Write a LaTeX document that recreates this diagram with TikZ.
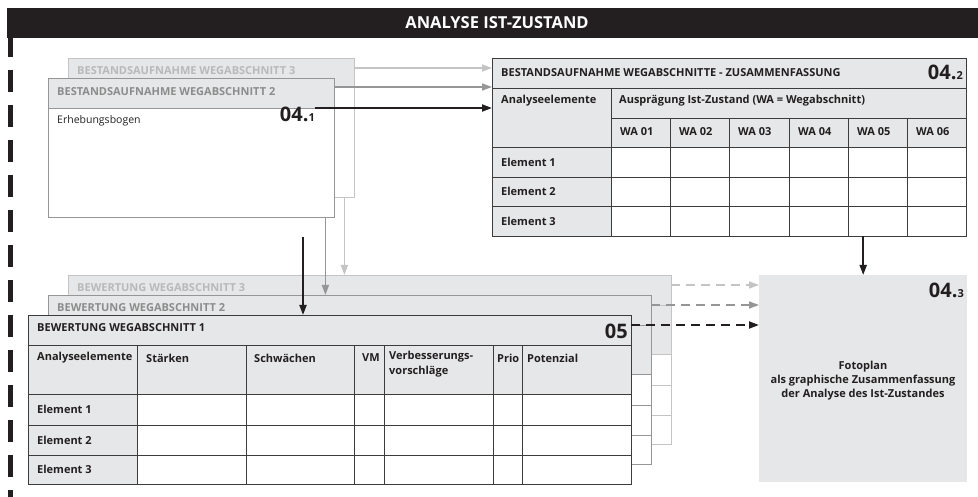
\documentclass[tikz,border=0pt]{standalone}
\usepackage{fontspec}
\setmainfont{Open Sans}
\usetikzlibrary{arrows.meta}
\definecolor{boxgray}{RGB}{230,231,232}
\definecolor{inkdark}{RGB}{35,31,32}
\definecolor{gridgray}{RGB}{60,60,60}
\definecolor{midgray}{RGB}{150,150,150}
\definecolor{midtext}{RGB}{140,140,140}
\definecolor{palegray}{RGB}{196,196,196}
\definecolor{paletext}{RGB}{185,185,185}
\tikzstyle{card} = [rectangle, anchor=north west, inner sep=0pt, fill=white]
\tikzstyle{celltext} = [anchor=west, inner sep=0pt, text=inkdark,
font=\fontsize{11}{13}\selectfont\bfseries]
\tikzstyle{number} = [inner sep=0pt, text=inkdark, font=\fontsize{20}{20}\selectfont\bfseries]
\tikzstyle{grid} = [gridgray, line width=0.9pt]
\tikzstyle{arrow} = [line width=2pt, -{Triangle[length=10pt,width=7pt]}]
\tikzstyle{grayarrow} = [line width=1.5pt, -{Triangle[length=10pt,width=7pt]}]
\tikzstyle{dasharrow} = [dash pattern=on 9pt off 6pt]
\begin{document}
\begin{tikzpicture}[x=1pt, y=-1pt]
\useasboundingbox (0,0) rectangle (978,497);

% title bar and left edge
\node (bar) [fill=inkdark, anchor=north west, minimum width=971pt, minimum height=30pt, inner sep=0pt] at (7,8) {};
\node (title) [text=white, font=\fontsize{16.5}{18}\selectfont\bfseries] at (497,23) {ANALYSE IST-ZUSTAND};
\draw[inkdark, line width=5pt, dash pattern=on 22pt off 13pt, dash phase=3pt] (10.5,38) -- (10.5,497);

% Bestandsaufnahme
\node (bst3) [card, minimum width=286pt, minimum height=139pt] at (68,58) {};
\fill[boxgray] (68,58) rectangle (354,88);
\draw[palegray] (bst3.north west) rectangle (bst3.south east);
\node (bst3title) [celltext, text=paletext] at (77,71) {BESTANDSAUFNAHME WEGABSCHNITT 3};

\node (bst2) [card, minimum width=286pt, minimum height=139pt] at (48,78) {};
\fill[boxgray] (48,78) rectangle (334,108);
\draw[midgray] (bst2.north west) rectangle (bst2.south east) (48,108) -- (334,108);
\node (bst2title) [celltext, text=midtext] at (57,92) {BESTANDSAUFNAHME WEGABSCHNITT 2};
\node (erhebung) [anchor=west, inner sep=0pt, text=inkdark, font=\fontsize{10.5}{12}\selectfont] at (57,121) {Erhebungsbogen};
\node (num041) [number, anchor=base east] at (315,122) {04.{\fontsize{11}{11}\selectfont 1}};

% Zusammenfassung
\node (sum) [card, minimum width=474pt, minimum height=178pt] at (492,58) {};
\fill[boxgray] (492,58) rectangle (966,147);
\fill[boxgray] (492,147) rectangle (611,236);
\draw[grid] (sum.north west) rectangle (sum.south east);
\draw[grid] (492,88) -- (966,88) (611,118) -- (966,118) (492,147) -- (966,147)
  (492,177) -- (966,177) (492,206) -- (966,206) (611,88) -- (611,236);
\foreach \x in {670,729,789,848,907}
  \draw[grid] (\x,118) -- (\x,236);
\node (sumtitle) [celltext] at (501,73) {BESTANDSAUFNAHME WEGABSCHNITTE - ZUSAMMENFASSUNG};
\node (num042) [number, anchor=base east] at (963,80) {04.{\fontsize{11}{11}\selectfont 2}};
\node (sumhead1) [celltext] at (501,101) {Analyseelemente};
\node (sumhead2) [celltext] at (619,101) {Ausprägung Ist-Zustand (WA = Wegabschnitt)};
\foreach \i/\x in {1/620,2/679,3/738,4/798,5/857,6/916}
  \node (wa\i) [celltext] at (\x,132) {WA 0\i};
\foreach \i/\y in {1/162,2/191.5,3/221}
  \node (sumel\i) [celltext] at (501,\y) {Element \i};

% Fotoplan
\node (foto) [fill=boxgray, anchor=north west, minimum width=208pt, minimum height=207pt, inner sep=0pt] at (759,275) {};
\node (num043) [number, anchor=base east] at (964,298) {04.{\fontsize{11}{11}\selectfont 3}};
\node (fototext) [align=center, text=inkdark, font=\fontsize{11}{14}\selectfont\bfseries] at (863,381)
  {Fotoplan\\als graphische Zusammenfassung\\der Analyse des Ist-Zustandes};

% Bewertung
\foreach \n/\d/\lc/\tc in {3/40/palegray/paletext,2/20/midgray/midtext,1/0/gridgray/inkdark} {
  \begin{scope}[shift={(\d,-\d)}]
    \node (bew\n) [card, minimum width=603pt, minimum height=169pt] at (28,315) {};
    \fill[boxgray] (28,315) rectangle (631,394);
    \fill[boxgray] (28,394) rectangle (137,484);
    \draw[\lc, line width=0.9pt] (28,315) rectangle (631,484) (28,345) -- (631,345)
      (28,394) -- (631,394) (28,425) -- (631,425) (28,455) -- (631,455);
    \foreach \x in {137,246,354,384,493,522}
      \draw[\lc, line width=0.9pt] (\x,345) -- (\x,484);
    \node (bewtitle\n) [celltext, text=\tc] at (37,328) {BEWERTUNG WEGABSCHNITT \n};
  \end{scope}
}
\node (num05) [number, anchor=base east] at (628,338) {05};
\node (bewhead1) [celltext] at (37,358) {Analyseelemente};
\node (bewhead2) [celltext] at (146,358) {Stärken};
\node (bewhead3) [celltext] at (254,358) {Schwächen};
\node (bewhead4) [celltext] at (362,358) {VM};
\node (bewhead5) [celltext, anchor=north west, align=left, font=\fontsize{11}{15}\selectfont\bfseries] at (389,351) {Verbesserungs-\\vorschläge};
\node (bewhead6) [celltext] at (497,358) {Prio};
\node (bewhead7) [celltext] at (527,358) {Potenzial};
\foreach \i/\y in {1/409.5,2/440,3/469.5}
  \node (bewel\i) [celltext] at (37,\y) {Element \i};

% arrows
\coordinate (g3) at ([yshift=-10pt]bst3.north east);
\coordinate (g2) at ([yshift=-9pt]bst2.north east);
\coordinate (g1) at ([yshift=14pt]num041.base east);
\draw[grayarrow, palegray] (g3) -- (g3 -| sum.west);
\draw[grayarrow, midgray] (g2) -- (g2 -| sum.west);
\draw[arrow, inkdark] (g1) -- (g1 -| sum.west);

\coordinate (v3) at ([xshift=-10pt]bst3.south east);
\coordinate (v2) at ([xshift=-9pt]bst2.south east);
\coordinate (v1) at (303,237);
\draw[grayarrow, palegray] (v3) -- (v3 |- bew3.north);
\draw[grayarrow, midgray] (v2) -- (v2 |- bew2.north);
\draw[arrow, inkdark] (v1) -- (v1 |- bew1.north);

\draw[arrow, inkdark] (foto.north |- sum.south) -- (foto.north);

\coordinate (h3) at ([yshift=-10pt]bew3.north east);
\coordinate (h2) at ([yshift=-10pt]bew2.north east);
\coordinate (h1) at ([yshift=-10pt]bew1.north east);
\draw[grayarrow, dasharrow, palegray] (h3) -- (h3 -| foto.west);
\draw[grayarrow, dasharrow, midgray] (h2) -- (h2 -| foto.west);
\draw[arrow, dasharrow, inkdark] (h1) -- (h1 -| foto.west);
\end{tikzpicture}
\end{document}
